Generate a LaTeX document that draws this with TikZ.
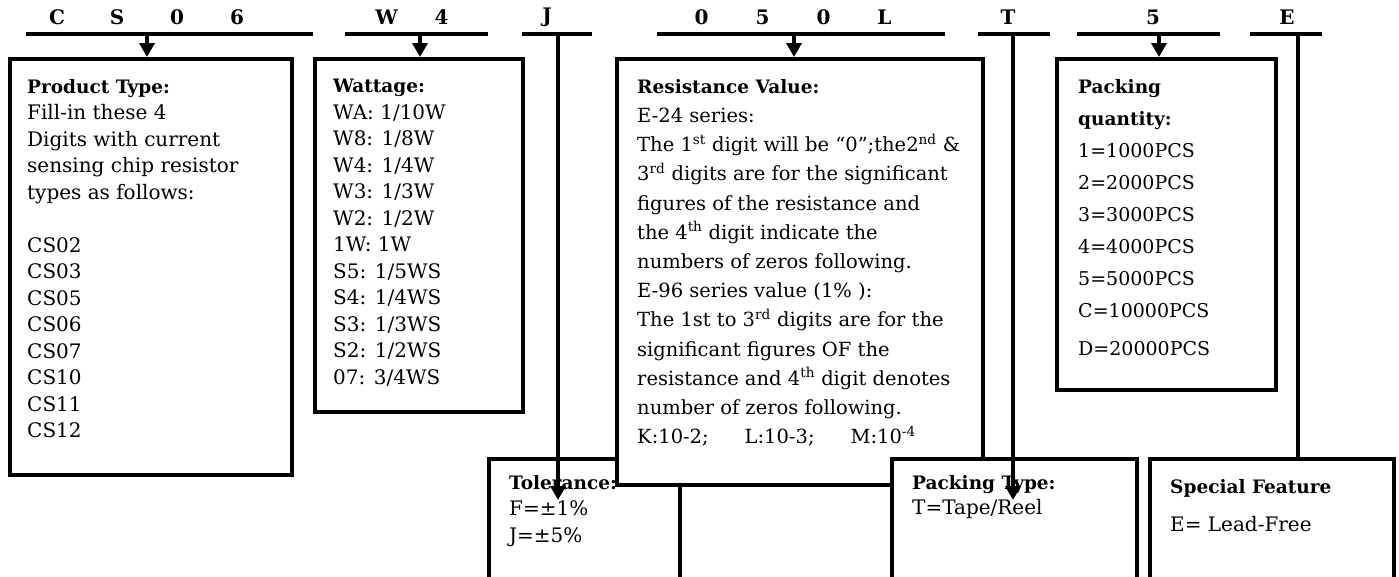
\documentclass[tikz,border=0pt]{standalone}
\usepackage{fontspec}
\setmainfont{DejaVu Serif}
\usetikzlibrary{positioning, calc, arrows.meta}

\newcommand{\codecell}[2]{\makebox[#1pt]{#2}}
\newcommand{\headtxt}[1]{{\fontsize{18.5}{20}\selectfont\bfseries #1}}

\begin{document}
\begin{tikzpicture}[x=1pt, y=-1pt,
    box/.style={draw, fill=white, line width=4.2pt, anchor=north west, inner sep=0pt},
    txt/.style={anchor=north west, align=left, inner sep=0pt, font=\fontsize{20}{26.5}\selectfont},
    code/.style={inner sep=0pt, font=\fontsize{20}{24}\selectfont\bfseries},
    bar/.style={line width=4pt},
    arr/.style={line width=4pt, -{Triangle[width=15pt,length=14pt]}}]
        \useasboundingbox (0,0) rectangle (1399,576);
        \clip (0,0) rectangle (1399,576);

        % Code letters on top
        \node[code] (cs06) at (147,17) {\codecell{60}{C}\codecell{60}{S}\codecell{60}{0}\codecell{60}{6}};
        \node[code] (w4) at (414,17) {\codecell{55}{W}\codecell{55}{4}};
        \node[code] (j) at (547,17) {J};
        \node[code] (r050l) at (793,17) {\codecell{61}{0}\codecell{61}{5}\codecell{61}{0}\codecell{61}{L}};
        \node[code] (t) at (1008,17) {T};
        \node[code] (q5) at (1153,17) {5};
        \node[code] (e) at (1287,17) {E};

        % Bars under the letters
        \coordinate (cs06l) at (26,34);   \coordinate (cs06r) at (313,34);
        \coordinate (w4l) at (345,34);    \coordinate (w4r) at (488,34);
        \coordinate (jl) at (522,34);     \coordinate (jr) at (592,34);
        \coordinate (r050ll) at (657,34); \coordinate (r050lr) at (945,34);
        \coordinate (tl) at (978,34);     \coordinate (tr) at (1050,34);
        \coordinate (q5l) at (1077,34);   \coordinate (q5r) at (1220,34);
        \coordinate (el) at (1250,34);    \coordinate (er) at (1322,34);
        \foreach \b in {cs06, w4, j, r050l, t, q5, e}
            \draw[bar] (\b l) -- (\b r);

        % Boxes (lower row first, resistance box over the tolerance box)
        \node[box, minimum width=282, minimum height=416] (ptype) at (8,57) {};
        \node[box, minimum width=208, minimum height=353] (watt) at (313,57) {};
        \node[box, minimum width=219, minimum height=331] (pqty) at (1055,57) {};
        \node[box, minimum width=191, minimum height=170] (tol) at (487,457) {};
        \node[box, minimum width=366, minimum height=426] (res) at (615,57) {};
        \node[box, minimum width=245, minimum height=170] (ptyp) at (890,457) {};
        \node[box, minimum width=244, minimum height=170] (spec) at (1148,457) {};

        % Texts in the boxes
        \node[txt] (ptypetxt) at ([shift={(19,22)}]ptype.north west) {\headtxt{Product Type:}\\
            Fill-in these 4\\ Digits with current\\ sensing chip resistor\\ types as follows:\\ \mbox{}\\
            CS02\\ CS03\\ CS05\\ CS06\\ CS07\\ CS10\\ CS11\\ CS12};
        \node[txt] (watttxt) at ([shift={(20,22)}]watt.north west) {\headtxt{Wattage:}\\
            WA: 1/10W\\ W8: 1/8W\\ W4: 1/4W\\ W3: 1/3W\\ W2: 1/2W\\ 1W: 1W\\
            S5: 1/5WS\\ S4: 1/4WS\\ S3: 1/3WS\\ S2: 1/2WS\\ 07: 3/4WS};
        \node[txt, font=\fontsize{19.5}{29.2}\selectfont] (restxt) at ([shift={(22,22)}]res.north west) {\headtxt{Resistance Value:}\\
            E-24 series:\\
            The 1\textsuperscript{st} digit will be “0”;the2\textsuperscript{nd} \&\\
            3\textsuperscript{rd} digits are for the significant\\
            figures of the resistance and\\
            the 4\textsuperscript{th} digit indicate the\\
            numbers of zeros following.\\
            E-96 series value (1\% ):\\
            The 1st to 3\textsuperscript{rd} digits are for the\\
            significant figures OF the\\
            resistance and 4\textsuperscript{th} digit denotes\\
            number of zeros following.\\
            K:10-2;\hspace{36pt}L:10-3;\hspace{36pt}M:10\textsuperscript{-4}};
        \node[txt, font=\fontsize{19}{32}\selectfont] (pqtytxt) at ([shift={(23,22)}]pqty.north west) {\headtxt{Packing}\\
            \headtxt{quantity:}\\ 1=1000PCS\\ 2=2000PCS\\ 3=3000PCS\\ 4=4000PCS\\ 5=5000PCS\\
            C=10000PCS\\[6pt] D=20000PCS};
        \node[txt] (toltxt) at ([shift={(22,18)}]tol.north west) {\headtxt{Tolerance:}\\
            F=±1\%\\ J=±5\%};
        \node[txt, font=\fontsize{20}{25}\selectfont] (ptyptxt) at ([shift={(22,18)}]ptyp.north west) {\headtxt{Packing Type:}\\
            T=Tape/Reel};
        \node[txt, font=\fontsize{20}{38}\selectfont] (spectxt) at ([shift={(22,22)}]spec.north west) {\headtxt{Special Feature}\\
            E= Lead-Free};

        % Arrows and lines from the bars
        \coordinate (cs06m) at (147,34);
        \coordinate (w4m) at (420,34);
        \coordinate (r050lm) at (794,34);
        \coordinate (q5m) at (1159,34);
        \draw[arr] (cs06m) -- (cs06m |- ptype.north);
        \draw[arr] (w4m) -- (w4m |- watt.north);
        \draw[arr] (r050lm) -- (r050lm |- res.north);
        \draw[arr] (q5m) -- (q5m |- pqty.north);
        \coordinate (jm) at (558,34);   \coordinate (jtip) at (558,500);
        \coordinate (tm) at (1013,34);  \coordinate (ttip) at (1013,500);
        \coordinate (em) at (1298,34);
        \draw[arr] (jm) -- (jtip);
        \draw[arr] (tm) -- (ttip);
        \draw[bar] (em) -- (em |- spec.north);
\end{tikzpicture}
\end{document}
